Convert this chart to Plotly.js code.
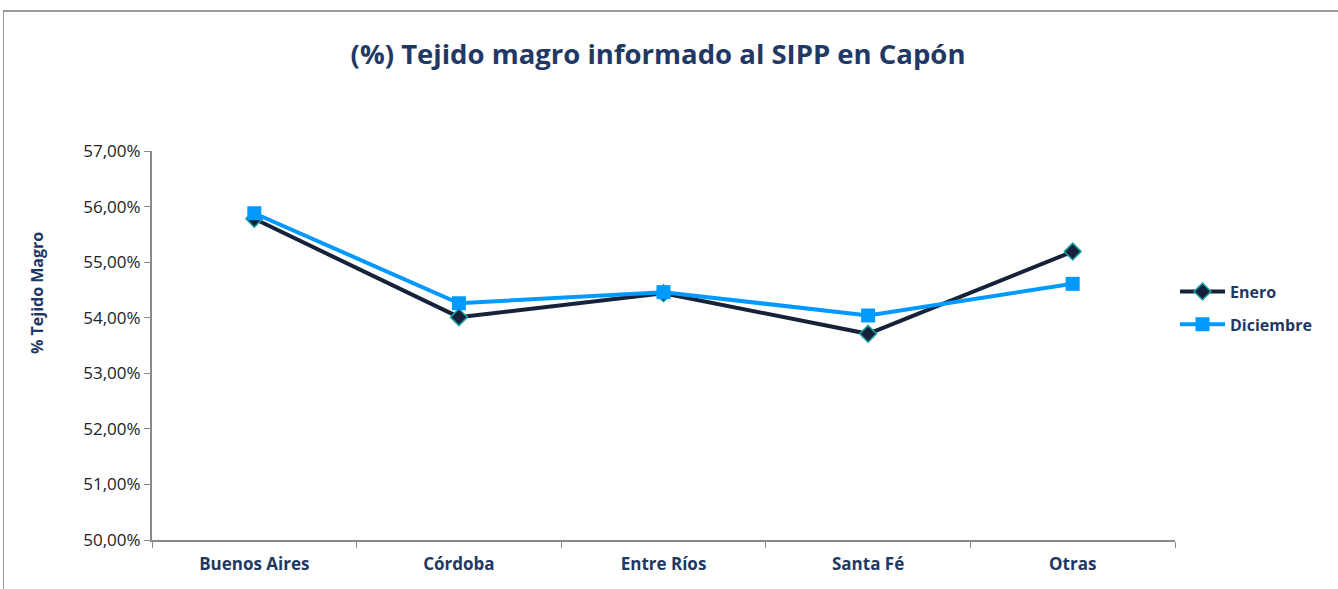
<!DOCTYPE html>
<html><head><meta charset="utf-8">
<script src="https://cdn.plot.ly/plotly-3.0.1.min.js"></script>
<style>
html,body{margin:0;padding:0;background:#fff;}
#chart{position:absolute;left:0;top:0;width:1338px;height:589px;}
#frame{position:absolute;left:3px;top:10px;width:1340px;height:600px;border-top:2px solid #9a9a9a;border-left:1px solid #9a9a9a;pointer-events:none;}
</style></head>
<body>
<div id="chart"></div>
<div id="frame"></div>
<script>
const categories = ["Buenos Aires", "Córdoba", "Entre Ríos", "Santa Fé", "Otras"];
const enero = [55.78, 54.01, 54.44, 53.71, 55.19];
const diciembre = [55.88, 54.26, 54.46, 54.04, 54.61];
const yTicks = [50, 51, 52, 53, 54, 55, 56, 57];
const yTickText = yTicks.map(v => v.toFixed(2).replace(".", ",") + "%");

const navy = "#1f3864";
const traces = [
  {x: categories, y: enero, name: "Enero", type: "scatter", mode: "lines+markers", legendgroup: "a",
   line: {color: "#15223a", width: 4},
   marker: {symbol: "diamond", size: 13, color: "#15223a", line: {color: "#1aa3a3", width: 1.5}}},
  {x: categories, y: diciembre, name: "Diciembre", type: "scatter", mode: "lines+markers", legendgroup: "b",
   line: {color: "#0099ff", width: 4},
   marker: {symbol: "square", size: 14, color: "#0099ff"}}
];
const layout = {
  width: 1338, height: 589,
  margin: {l: 152, r: 163, t: 151, b: 49},
  paper_bgcolor: "#fff", plot_bgcolor: "#fff",
  font: {family: "Open Sans, sans-serif"},
  title: {text: "<b>(%) Tejido magro informado al SIPP en Capón</b>", x: 0.4918, xanchor: "center", y: 0.907, yanchor: "middle",
          font: {size: 27.5, color: navy, family: "Open Sans, sans-serif"}},
  xaxis: {type: "category", range: [-0.5, 4.5], showgrid: false, zeroline: false, showline: true, linecolor: "#888", linewidth: 2,
          ticks: "outside", tickson: "boundaries", ticklen: 6, tickcolor: "#888", tickwidth: 1, ticklabelstandoff: 8,
          tickfont: {size: 17, color: navy, family: "Open Sans, sans-serif", weight: "bold"}},
  yaxis: {range: [50, 57], tickmode: "array", tickvals: yTicks, ticktext: yTickText,
          showgrid: false, zeroline: false, showline: true, linecolor: "#888", linewidth: 2,
          ticks: "outside", ticklen: 6, tickcolor: "#888",
          tickfont: {size: 17, color: "#222", family: "Open Sans, sans-serif"}},
  annotations: [
    {text: "<b>% Tejido Magro</b>", xref: "paper", yref: "paper", x: -0.1124, y: 0.635, textangle: -90,
     showarrow: false, xanchor: "center", yanchor: "middle", font: {size: 16, color: navy, family: "Open Sans, sans-serif"}}
  ],
  legend: {x: 1.0, xanchor: "left", y: 0.596, yanchor: "middle", tracegroupgap: 9, itemwidth: 45,
           font: {size: 16, color: navy, family: "Open Sans, sans-serif", weight: "bold"}},
  showlegend: true
};
Plotly.newPlot("chart", traces, layout, {displayModeBar: false, responsive: false});
</script>
</body></html>
